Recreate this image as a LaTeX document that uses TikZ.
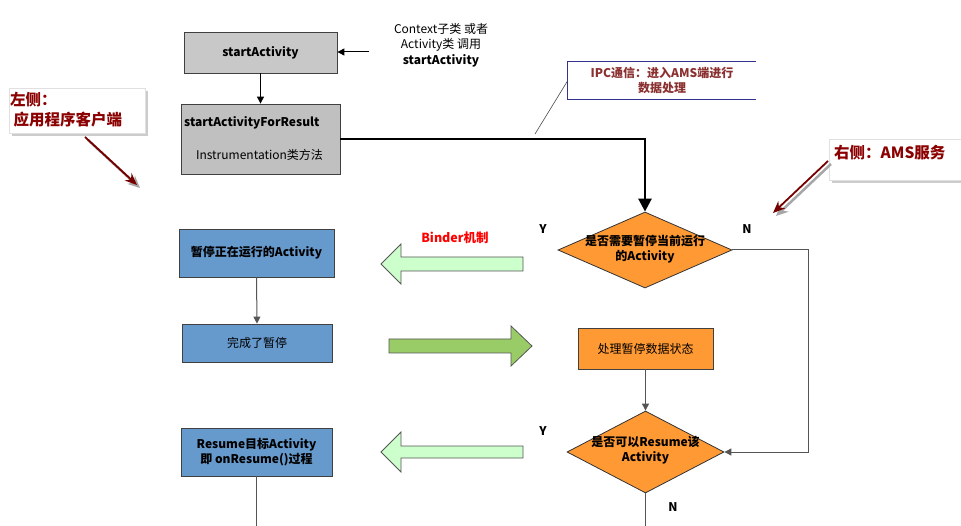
\documentclass[tikz,border=0pt]{standalone}
\usepackage{fontspec}
\setmainfont{Noto Sans CJK SC}
\usetikzlibrary{arrows.meta,shapes.geometric,shadows}
\definecolor{graya}{HTML}{C8C8C8}
\definecolor{grayb}{HTML}{C0C0C0}
\definecolor{blueb}{HTML}{6699CC}
\definecolor{orangeb}{HTML}{FF9933}
\definecolor{lgreen}{HTML}{CCFFCC}
\definecolor{dgreen}{HTML}{99CC66}
\definecolor{calred}{HTML}{8B0000}
\definecolor{ipcred}{HTML}{8B3030}
\definecolor{ipcblue}{HTML}{33338F}
\definecolor{linegray}{HTML}{555555}
\begin{document}
\begin{tikzpicture}[x=1pt,y=-1pt,
  font=\fontsize{12}{15.5}\selectfont,
  box/.style={draw=black!75, line width=0.8pt, inner sep=0pt, align=center},
  dia/.style={shape=diamond, draw=black!80, line width=0.8pt, fill=orangeb, inner sep=0pt},
  txt/.style={inner sep=0pt, align=center},
  conn/.style={draw=linegray, line width=1pt, -{Triangle[length=7pt,width=7pt]}},
  plain/.style={draw=linegray, line width=1pt},
  blockarrow/.style={draw=linegray, line width=0.8pt},
  yn/.style={inner sep=0pt, font=\fontsize{12}{13}\selectfont\bfseries},
  callout/.style={draw=black!12, fill=white, inner sep=0pt, drop shadow={shadow xshift=3pt, shadow yshift=-3pt, opacity=0.4}},
  caltext/.style={inner sep=0pt, text=calred, font=\fontsize{15.5}{20}\selectfont\bfseries, align=left},
  calarrow/.style={draw=calred!85!black, line width=1.8pt, -{Stealth[length=12pt,width=10pt]}},
  calshadow/.style={draw=black!35, line width=2.5pt, -{Stealth[length=12pt,width=11pt]}}
]
\useasboundingbox (0,0) rectangle (961,526);
\clip (0,0) rectangle (961,526);
\fill[white] (0,0) rectangle (961,526);

% left side: client
\node[box, fill=graya, minimum width=153pt, minimum height=41pt, font=\fontsize{12}{13}\selectfont\bfseries] (sa) at (260.5,52.5) {startActivity};
\node[txt] (ctx) at (441,45) {Context子类 或者\\Activity类 调用\\\textbf{startActivity}};
\coordinate (ctxa) at (369,52);
\draw[conn, draw=black] (ctxa) -- (sa.east |- ctxa);

\node[box, fill=grayb, minimum width=159pt, minimum height=70pt] (sfr) at (260.5,139) {};
\node[txt, anchor=west, font=\fontsize{12}{13}\selectfont\bfseries] (sfrt) at (184,123) {startActivityForResult};
\node[txt] (sfri) at (259.5,155) {Instrumentation类方法};
\draw[conn, draw=black] (sa.south) -- (sfr.north);

% diamonds and AMS side
\node[dia, minimum width=174pt, minimum height=76pt] (d1) at (645,250) {};
\node[txt, font=\fontsize{12}{15.5}\selectfont\bfseries] (d1t) at (645,249) {是否需要暂停当前运行\\的Activity};
\draw[black, line width=2.6pt, -{Triangle[length=13pt,width=13pt]}] (sfr.east) -| (d1.north);

\node[box, fill=orangeb, minimum width=135pt, minimum height=41pt] (proc) at (645.5,348.5) {处理暂停数据状态};
\node[dia, minimum width=157pt, minimum height=82pt] (d2) at (645.5,452) {};
\node[txt, font=\fontsize{12}{15.5}\selectfont\bfseries] (d2t) at (645.5,450) {是否可以Resume该\\Activity};
\draw[conn] (proc.south) -- (d2.north);
\coordinate (nr) at (808,300);
\draw[conn] (d1.east) -| (nr) |- (d2.east);
\coordinate (d2b) at (645.5,526);
\draw[plain] (d2.south) -- (d2b);

\node[yn] (y1) at (543,229) {Y};
\node[yn] (n1) at (747,229) {N};
\node[yn] (y2) at (543,431) {Y};
\node[yn] (n2) at (673,507) {N};

% client boxes
\node[box, fill=blueb, minimum width=155pt, minimum height=48pt, font=\fontsize{12}{15.5}\selectfont\bfseries] (b1) at (256.5,253) {暂停正在运行的Activity};
\node[box, fill=blueb, minimum width=150pt, minimum height=38pt] (b2) at (257,343) {完成了暂停};
\node[box, fill=blueb, minimum width=151pt, minimum height=48pt, font=\fontsize{12}{15.5}\selectfont\bfseries] (b3) at (256.5,452) {Resume目标Activity\\即 onResume()过程};
\draw[conn] (b1.south) -- (b2.north);
\coordinate (b3b) at (256.5,526);
\draw[plain] (b3.south) -- (b3b);

% block arrows
\draw[blockarrow, fill=lgreen] (381,264) -- (401,244) -- (401,257) -- (523,257) -- (523,271) -- (401,271) -- (401,284) -- cycle;
\draw[blockarrow, fill=dgreen] (532,346) -- (511,326) -- (511,339) -- (389,339) -- (389,353) -- (511,353) -- (511,366) -- cycle;
\draw[blockarrow, fill=lgreen] (381,452) -- (401,432) -- (401,446) -- (523,446) -- (523,458) -- (401,458) -- (401,472) -- cycle;
\node[txt, text=red, font=\fontsize{12.5}{13}\selectfont\bfseries] (binder) at (455,238) {Binder机制};

% IPC callout
\node[txt, text=ipcred, font=\fontsize{12}{15.5}\selectfont\bfseries, minimum width=188pt, minimum height=37pt] (ipc) at (662,80.5) {IPC通信：进入AMS端进行\\数据处理};
\draw[ipcblue, line width=0.8pt] (ipc.north east) -- (ipc.north west) -- (ipc.south west) -- (ipc.south east);
\coordinate (ipcp) at (535,134);
\draw[black!70, line width=0.6pt] (ipc.west) -- (ipcp);

% left callout
\node[callout, minimum width=136pt, minimum height=45pt] (lc) at (77,110.5) {};
\node[caltext, anchor=north west] (lct) at (10,92) {左侧：\\\ 应用程序客户端};
\coordinate (lca) at (85,137);
\coordinate (lcb) at (137,185);
\draw[calshadow] ([shift={(3,3)}]lca) -- ([shift={(3,3)}]lcb);
\draw[calarrow] (lca) -- (lcb);

% right callout
\node[callout, minimum width=145pt, minimum height=41pt] (rc) at (901.5,159.5) {};
\node[caltext, anchor=west] (rct) at (834,153) {右侧：AMS服务};
\coordinate (rca) at (828,161);
\coordinate (rcb) at (773,213);
\draw[calshadow] ([shift={(3,3)}]rca) -- ([shift={(3,3)}]rcb);
\draw[calarrow] (rca) -- (rcb);
\end{tikzpicture}
\end{document}
